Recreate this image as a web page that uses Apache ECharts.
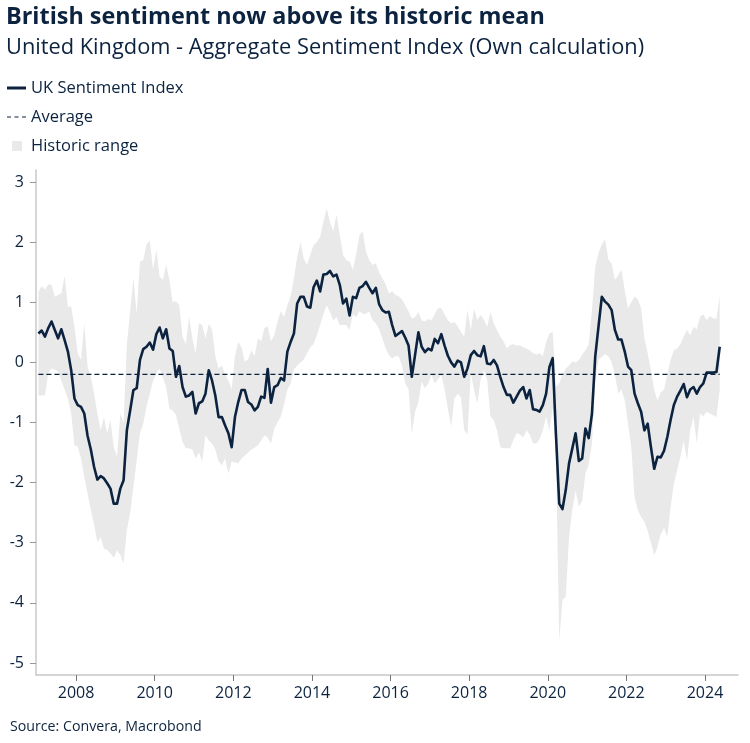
<!DOCTYPE html>
<html>
<head>
<meta charset="utf-8">
<script src="https://cdn.jsdelivr.net/npm/echarts@6/dist/echarts.min.js"></script>
<style>
html,body{margin:0;padding:0;background:#fff;}
#chart{width:750px;height:743px;}
</style>
</head>
<body>
<div id="chart"></div>
<script>
// ---- Data (monthly, Jan 2007 - May 2024) ----
const startYear = 2007;

const sentiment = [
 0.48, 0.53, 0.43, 0.57, 0.68, 0.54, 0.40, 0.55, 0.37, 0.18, -0.13, -0.60,
 -0.71, -0.74, -0.85, -1.22, -1.45, -1.74, -1.95, -1.89, -1.93, -2.01, -2.10, -2.35,
 -2.35, -2.10, -1.96, -1.13, -0.80, -0.46, -0.43, 0.04, 0.22, 0.26, 0.33, 0.21,
 0.47, 0.58, 0.40, 0.55, 0.23, 0.19, -0.24, -0.06, -0.41, -0.57, -0.55, -0.49,
 -0.85, -0.68, -0.65, -0.52, -0.13, -0.30, -0.55, -0.91, -0.91, -1.05, -1.18, -1.41,
 -0.91, -0.66, -0.46, -0.46, -0.66, -0.70, -0.80, -0.74, -0.57, -0.59, -0.11, -0.67,
 -0.41, -0.38, -0.26, -0.30, 0.18, 0.34, 0.48, 0.98, 1.09, 1.09, 0.93, 0.91,
 1.25, 1.36, 1.18, 1.46, 1.47, 1.52, 1.43, 1.46, 1.29, 0.98, 1.06, 0.78,
 1.09, 1.07, 1.24, 1.27, 1.34, 1.24, 1.15, 1.24, 0.97, 0.87, 0.83, 0.84,
 0.62, 0.44, 0.48, 0.52, 0.41, 0.28, -0.24, 0.13, 0.50, 0.26, 0.17, 0.23,
 0.20, 0.39, 0.32, 0.47, 0.28, 0.11, 0.00, -0.07, 0.03, 0.00, -0.24, -0.10,
 0.12, 0.19, 0.12, 0.10, 0.27, -0.02, -0.03, 0.04, -0.05, -0.24, -0.41, -0.54,
 -0.54, -0.67, -0.57, -0.47, -0.41, -0.60, -0.46, -0.78, -0.79, -0.82, -0.71, -0.52,
 -0.08, 0.07, -1.20, -2.35, -2.44, -2.12, -1.68, -1.43, -1.18, -1.64, -1.60, -1.10,
 -1.26, -0.85, 0.10, 0.60, 1.09, 1.01, 0.96, 0.87, 0.54, 0.38, 0.38, 0.18,
 -0.07, -0.13, -0.52, -0.68, -0.82, -1.13, -1.02, -1.41, -1.77, -1.57, -1.58, -1.47,
 -1.24, -0.96, -0.71, -0.57, -0.47, -0.36, -0.58, -0.45, -0.41, -0.52, -0.41, -0.35,
 -0.17, -0.17, -0.17, -0.16, 0.26
];

const rangeHigh = [
 1.18, 1.27, 1.21, 1.30, 1.29, 1.09, 1.12, 1.15, 1.44, 0.93, 0.93, 0.59,
 0.15, 0.04, 0.65, -0.07, -0.24, -0.52, -0.85, -1.13, -0.91, -1.18, -0.96, -1.41,
 -1.57, -0.85, -1.00, 0.30, 0.85, 1.40, 0.81, 1.68, 1.70, 1.96, 2.03, 1.54,
 1.87, 1.43, 1.37, 1.62, 1.37, 1.00, 1.02, 0.95, 0.43, 0.30, 0.76, 0.40,
 0.15, 0.65, 0.62, 0.40, 0.64, 0.55, 0.10, -0.10, -0.05, -0.20, -0.30, -0.45,
 0.10, 0.34, 0.25, 0.01, 0.05, 0.20, 0.10, 0.40, 0.35, 0.57, 0.60, 0.35,
 0.45, 0.68, 0.85, 0.75, 0.95, 1.10, 1.40, 1.75, 2.00, 1.73, 1.62, 1.79,
 1.95, 2.00, 2.09, 2.34, 2.56, 2.34, 2.18, 2.46, 2.12, 1.79, 1.70, 1.68,
 1.54, 1.80, 2.12, 2.18, 1.84, 1.70, 1.62, 1.65, 1.50, 1.40, 1.30, 1.15,
 1.18, 1.12, 1.10, 1.05, 0.95, 0.85, 0.73, 0.75, 0.84, 0.70, 0.68, 0.72,
 0.70, 0.80, 0.90, 0.90, 0.80, 0.70, 0.65, 0.67, 0.60, 0.50, 0.43, 0.87,
 0.54, 0.89, 0.71, 0.79, 0.71, 0.59, 0.84, 0.65, 0.54, 0.43, 0.35, 0.23,
 0.29, 0.30, 0.28, 0.28, 0.25, 0.23, 0.20, 0.15, 0.13, 0.15, 0.10, 0.34,
 0.48, 0.51, -0.40, -0.35, -0.20, -0.10, -0.05, 0.02, 0.00, 0.04, 0.13, 0.20,
 0.30, 0.87, 1.59, 1.82, 1.96, 2.05, 1.71, 1.65, 1.37, 1.45, 1.54, 1.20,
 0.90, 1.00, 1.10, 1.05, 0.90, 0.40, 0.15, -0.13, -0.46, -0.63, -0.50, -0.45,
 -0.20, 0.04, 0.20, 0.23, 0.30, 0.43, 0.54, 0.45, 0.59, 0.55, 0.76, 0.80,
 0.70, 0.77, 0.73, 0.73, 1.10
];

const rangeLow = [
 -0.55, -0.55, -0.55, -0.18, -0.10, -0.12, -0.15, -0.30, -0.45, -0.60, -0.85, -1.38,
 -1.40, -1.60, -1.90, -2.18, -2.45, -2.70, -2.99, -2.91, -3.10, -3.12, -3.18, -3.25,
 -3.13, -3.20, -3.35, -2.79, -2.51, -2.07, -1.63, -1.18, -1.02, -0.74, -0.52, -0.30,
 -0.19, -0.10, -0.25, -0.41, -0.77, -0.80, -0.88, -1.10, -1.32, -1.43, -1.43, -1.45,
 -1.60, -1.50, -1.65, -1.21, -1.30, -1.35, -1.45, -1.65, -1.71, -1.60, -1.85, -1.65,
 -1.66, -1.68, -1.60, -1.55, -1.50, -1.45, -1.42, -1.38, -1.30, -1.21, -1.25, -1.35,
 -1.10, -1.00, -0.90, -0.70, -0.45, -0.35, -0.12, -0.05, 0.00, 0.05, 0.15, 0.25,
 0.30, 0.45, 0.62, 0.80, 0.95, 0.84, 0.70, 0.75, 0.62, 0.62, 0.62, 0.54,
 0.80, 0.75, 0.85, 0.81, 0.81, 0.85, 0.70, 0.65, 0.56, 0.40, 0.23, 0.12,
 0.07, 0.10, 0.10, -0.05, -0.35, -0.45, -1.18, -0.82, -0.66, -0.32, -0.43, -0.35,
 -0.21, -0.35, -0.28, -0.21, -0.45, -0.77, -1.07, -0.60, -0.52, -0.58, -1.13, -1.20,
 -0.18, -0.46, -0.68, -0.29, -0.13, -0.29, -0.90, -0.96, -1.13, -1.41, -1.43, -1.43,
 -1.43, -1.29, -1.18, -1.20, -1.25, -1.13, -1.20, -1.35, -1.35, -1.28, -1.13, -0.90,
 -1.13, -0.75, -1.50, -4.63, -3.95, -3.90, -2.90, -2.45, -2.13, -2.40, -2.30, -1.85,
 -1.70, -1.35, -0.30, 0.05, 0.09, 0.14, 0.10, 0.00, -0.20, -0.52, -0.45, -0.63,
 -1.02, -1.41, -2.24, -2.46, -2.57, -2.65, -2.80, -3.00, -3.21, -3.07, -2.85, -2.75,
 -2.91, -2.41, -2.02, -1.80, -1.57, -1.30, -1.63, -1.13, -0.91, -1.35, -0.85, -0.90,
 -0.82, -0.85, -0.88, -0.91, -0.46
];

const averageValue = -0.2;
const yTicks = [-5, -4, -3, -2, -1, 0, 1, 2, 3];
const xTicks = [2008, 2010, 2012, 2014, 2016, 2018, 2020, 2022, 2024];

// ---- Build ----
const navy = '#0c2340';
const band = '#e9e9e9';
const font = "'Open Sans', 'Noto Sans', sans-serif";

const xs = sentiment.map((_, i) => startYear + (i + 0.5) / 12);
const lineData = sentiment.map((v, i) => [xs[i], v]);
const bandData = rangeLow.map((v, i) => [xs[i], v, rangeHigh[i]]);
const avgData = [[xs[0], averageValue], [xs[xs.length - 1], averageValue]];

function renderBand(params, api) {
  if (params.dataIndex !== 0) return null;
  const upper = [], lower = [];
  for (let i = 0; i < bandData.length; i++) {
    upper.push(api.coord([bandData[i][0], bandData[i][2]]));
    lower.push(api.coord([bandData[i][0], bandData[i][1]]));
  }
  return {
    type: 'polygon',
    shape: {points: upper.concat(lower.reverse())},
    style: {fill: band, stroke: null}
  };
}

const legendText = {fontFamily: font, fontSize: 16.5, lineHeight: 20, color: navy};

const chart = echarts.init(document.getElementById('chart'), null, {renderer: 'canvas'});
chart.setOption({
  animation: false,
  backgroundColor: '#fff',
  title: [
    {text: 'British sentiment now above its historic mean', left: 6, top: 3, padding: 0,
     textStyle: {fontFamily: font, fontWeight: 'bold', fontSize: 23.4, lineHeight: 28, color: navy}},
    {text: 'United Kingdom - Aggregate Sentiment Index (Own calculation)', left: 6, top: 35, padding: 0,
     textStyle: {fontFamily: font, fontWeight: 'normal', fontSize: 21.8, lineHeight: 26, color: navy}},
    {text: 'Source: Convera, Macrobond', left: 10, top: 718, padding: 0,
     textStyle: {fontFamily: font, fontWeight: 'normal', fontSize: 14.2, lineHeight: 18, color: navy}}
  ],
  legend: [
    {left: 7, top: 78, padding: 0, itemWidth: 19, itemHeight: 3, selectedMode: false,
     data: [{name: 'UK Sentiment Index', icon: 'rect'}], textStyle: legendText},
    {left: 7, top: 107, padding: 0, itemWidth: 19, itemHeight: 1.5, selectedMode: false,
     data: [{name: 'Average', icon: 'path://M0,0h4v1h-4z M7.5,0h4v1h-4z M15,0h4v1h-4z'}], textStyle: legendText},
    {left: 12, top: 136, padding: 0, itemWidth: 10, itemHeight: 10, selectedMode: false,
     data: [{name: 'Historic range', icon: 'rect'}], textStyle: Object.assign({}, legendText, {padding: [0, 0, 0, 4]})}
  ],
  grid: {left: 36, right: 12, top: 170, bottom: 68, containLabel: false},
  xAxis: {
    type: 'value', min: 2006.98, max: 2024.84,
    splitLine: {show: false},
    axisLine: {show: true, onZero: false, lineStyle: {color: '#c8c8c8', width: 1.5}},
    axisTick: {show: true, customValues: xTicks, length: 6, lineStyle: {color: '#777'}},
    axisLabel: {customValues: xTicks, formatter: v => String(v), margin: 10,
      fontFamily: font, fontSize: 16, color: navy}
  },
  yAxis: {
    type: 'value', min: -5.2, max: 3.2,
    splitLine: {show: false},
    axisLine: {show: true, onZero: false, lineStyle: {color: '#c8c8c8', width: 1.5}},
    axisTick: {show: true, customValues: yTicks, length: 6, lineStyle: {color: '#999'}},
    axisLabel: {customValues: yTicks, margin: 12, fontFamily: font, fontSize: 16, color: navy}
  },
  series: [
    {name: 'Historic range', type: 'custom', data: bandData, renderItem: renderBand,
     encode: {x: 0, y: [1, 2]}, silent: true, color: band, itemStyle: {color: band}, z: 1},
    {name: 'Average', type: 'line', data: avgData, symbol: 'none', silent: true, color: navy,
     lineStyle: {color: navy, width: 1.3, type: [5, 3]}, z: 2},
    {name: 'UK Sentiment Index', type: 'line', data: lineData, symbol: 'none', silent: true, color: navy,
     lineStyle: {color: navy, width: 2.6, join: 'round'}, z: 3}
  ]
});
</script>
</body>
</html>
